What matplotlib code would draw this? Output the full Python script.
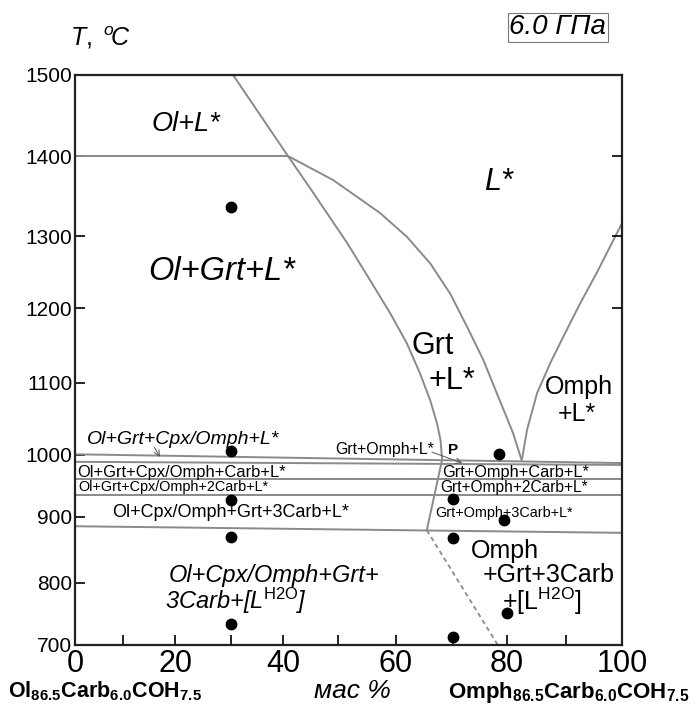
import numpy as np
import matplotlib
matplotlib.use("Agg")
import matplotlib.pyplot as plt

plt.rcParams['font.family'] = ['Liberation Sans', 'DejaVu Sans']
plt.rcParams['mathtext.fontset'] = 'custom'
plt.rcParams['mathtext.rm'] = 'Liberation Sans'
plt.rcParams['mathtext.it'] = 'Liberation Sans:italic'
plt.rcParams['mathtext.bf'] = 'Liberation Sans:bold'

# the drawn axes of the original are not quite linear: tick value -> drawn position
x_ticks = [0, 10, 20, 30, 40, 50, 60, 70, 80, 90, 100]
x_drawn = [75, 123, 175, 231, 283, 338, 396, 453, 507, 566, 622]
T_ticks = [700, 800, 900, 1000, 1100, 1200, 1300, 1400, 1500]
T_drawn = [645, 583, 517, 455, 383, 308, 236, 156, 75]

def fx(x):
    return np.interp(x, x_ticks, x_drawn)
def fx_inv(v):
    return np.interp(v, x_drawn, x_ticks)
def fT(t):
    return -np.interp(t, T_ticks, T_drawn)
def fT_inv(v):
    return np.interp(v, [-p for p in T_drawn], T_ticks)

# phase boundaries (wt %, T degC)
ol_liq_x = [30.4, 40.9]
ol_liq_T = [1500, 1400]
iso1400_x = [0, 40.9]
iso1400_T = [1400, 1400]
grt_in_x = [40.9, 45.5, 51.6, 55.5, 59.0, 61.9, 64.2, 66.0, 67.2, 67.8, 68.1, 65.4]
grt_in_T = [1400, 1354, 1290, 1239, 1193, 1153, 1113, 1076, 1044, 1021, 993, 880]
grt_liq_x = [40.9, 49.1, 57.2, 61.9, 66.0, 69.5, 72.6, 75.6, 78.1, 79.9, 81.0, 82.5]
grt_liq_T = [1400, 1370, 1329, 1299, 1262, 1220, 1175, 1131, 1086, 1053, 1031, 991]
omph_liq_x = [82.5, 83.4, 85.1, 87.3, 89.5, 92.5, 95.5, 100]
omph_liq_T = [991, 1035, 1086, 1126, 1161, 1206, 1249, 1316]
solidusA_x = [0, 100]
solidusA_T = [1001, 987]
solidusB_x = [0, 100]
solidusB_T = [989, 984]
carb1_x = [0, 100]
carb1_T = [961, 961]
carb2_x = [0, 100]
carb2_T = [935.5, 935.5]
carb3_x = [0, 100]
carb3_T = [886, 876]
ol_out_x = [65.4, 78.3]
ol_out_T = [880, 700]

# experiment points
exp_x = [30, 30, 30, 30, 30, 70, 70, 70, 78.5, 79.4, 80]
exp_T = [1336, 1005, 927, 870, 734, 713, 868, 929, 1001, 895, 752]

fig = plt.figure(figsize=(6.99, 7.17), dpi=100)
ax = fig.add_axes([75/699, 1-645/717, (622-75)/699, (645-75)/717])
ax.set_xscale('function', functions=(fx, fx_inv))
ax.set_yscale('function', functions=(fT, fT_inv))
ax.set_xlim(0, 100)
ax.set_ylim(700, 1500)

gc = '#8a8a8a'
for xs, ts in [(ol_liq_x, ol_liq_T), (iso1400_x, iso1400_T), (grt_in_x, grt_in_T),
               (grt_liq_x, grt_liq_T), (omph_liq_x, omph_liq_T),
               (solidusA_x, solidusA_T), (solidusB_x, solidusB_T),
               (carb1_x, carb1_T), (carb2_x, carb2_T), (carb3_x, carb3_T)]:
    ax.plot(xs, ts, color=gc, lw=1.4, solid_capstyle='butt', solid_joinstyle='round')
ax.plot(ol_out_x, ol_out_T, color=gc, lw=1.3, ls=(0, (2.5, 2)))
ax.plot(exp_x, exp_T, 'o', color='black', ms=7.5, clip_on=False, zorder=5)

# field labels
ax.text(22.0, 1440, 'Ol+L*', fontsize=19.5, style='italic', ha='center', va='center')
ax.text(28.4, 1250, 'Ol+Grt+L*', fontsize=23.5, style='italic', ha='center', va='center')
ax.text(78.5, 1368, 'L*', fontsize=22, style='italic', ha='center', va='center')
ax.text(66.5, 1149, 'Grt', fontsize=22, ha='center', va='center')
ax.text(69.8, 1103, '+L*', fontsize=22, ha='center', va='center')
ax.text(92.3, 1094, 'Omph', fontsize=18, ha='center', va='center')
ax.text(92.0, 1057, '+L*', fontsize=18, ha='center', va='center')
ax.text(2.4, 1022, 'Ol+Grt+Cpx/Omph+L*', fontsize=14, style='italic', va='center')
ax.text(49.5, 1008, 'Grt+Omph+L*', fontsize=11.4, va='center')
ax.text(69.1, 1007, 'P', fontsize=11, weight='bold', va='center')
ax.text(0.4, 972, 'Ol+Grt+Cpx/Omph+Carb+L*', fontsize=11.9, va='center')
ax.text(0.8, 947.6, 'Ol+Grt+Cpx/Omph+2Carb+L*', fontsize=10.4, va='center')
ax.text(30, 906.5, 'Ol+Cpx/Omph+Grt+3Carb+L*', fontsize=13, ha='center', va='center')
ax.text(68.1, 972, 'Grt+Omph+Carb+L*', fontsize=11.8, va='center')
ax.text(67.7, 947, 'Grt+Omph+2Carb+L*', fontsize=11.2, va='center')
ax.text(66.8, 907, 'Grt+Omph+3Carb+L*', fontsize=10.4, va='center')
ax.text(18.7, 812, 'Ol+Cpx/Omph+Grt+', fontsize=17, style='italic', va='center')
ax.text(18.1, 771, r'3Carb+[L$^{\mathrm{H2O}}$]', fontsize=17, style='italic', va='center')
ax.text(73.3, 848, 'Omph', fontsize=18, va='center')
ax.text(75.6, 812, '+Grt+3Carb', fontsize=18, va='center')
ax.text(79.1, 771, r'+[L$^{\mathrm{H2O}}$]', fontsize=18, va='center')

arrow = dict(arrowstyle='->', color='#555555', lw=0.7, shrinkA=0, shrinkB=0)
ax.annotate('', xy=(17.1, 997), xytext=(16.0, 1011), arrowprops=arrow)
ax.annotate('', xy=(71.7, 987), xytext=(66.3, 1004), arrowprops=arrow)

ax.set_xticks([0, 20, 40, 60, 80, 100])
ax.set_xticks([10, 30, 50, 70, 90], minor=True)
ax.set_yticks(T_ticks)
ax.yaxis.set_minor_locator(plt.NullLocator())
ax.tick_params(axis='x', which='both', direction='in', length=7, width=1.2,
               labelsize=22, pad=3)
ax.tick_params(axis='y', direction='in', length=7, width=1.2, labelsize=15, pad=2)
for s in ax.spines.values():
    s.set_linewidth(1.6)
    s.set_color('#222222')

# inner ticks on the right side
ax2 = ax.twinx()
ax2.set_yscale('function', functions=(fT, fT_inv))
ax2.set_ylim(700, 1500)
ax2.set_yticks([1200, 1300, 1400])
ax2.yaxis.set_minor_locator(plt.NullLocator())
ax2.tick_params(axis='y', direction='in', length=7, width=1.2, labelright=False)
for s in ax2.spines.values():
    s.set_visible(False)

fig.text(0.143, 0.947, r'$\mathit{T},\ ^{o}\!\mathit{C}$', fontsize=18, ha='center', va='center')
fig.text(0.798, 0.962, '6.0 ГПа', fontsize=20, style='italic', ha='center', va='center',
         bbox=dict(boxstyle='square,pad=0.06', fc='white', ec='#777777', lw=0.8))
fig.text(0.012, 0.027, r'$\mathbf{Ol_{86.5}Carb_{6.0}COH_{7.5}}$', fontsize=15.5,
         ha='left', va='baseline')
fig.text(0.504, 0.027, 'мас %', fontsize=19, style='italic', ha='center', va='baseline')
fig.text(0.987, 0.027, r'$\mathbf{Omph_{86.5}Carb_{6.0}COH_{7.5}}$', fontsize=16,
         ha='right', va='baseline')

fig.savefig('out.png', dpi=100)
